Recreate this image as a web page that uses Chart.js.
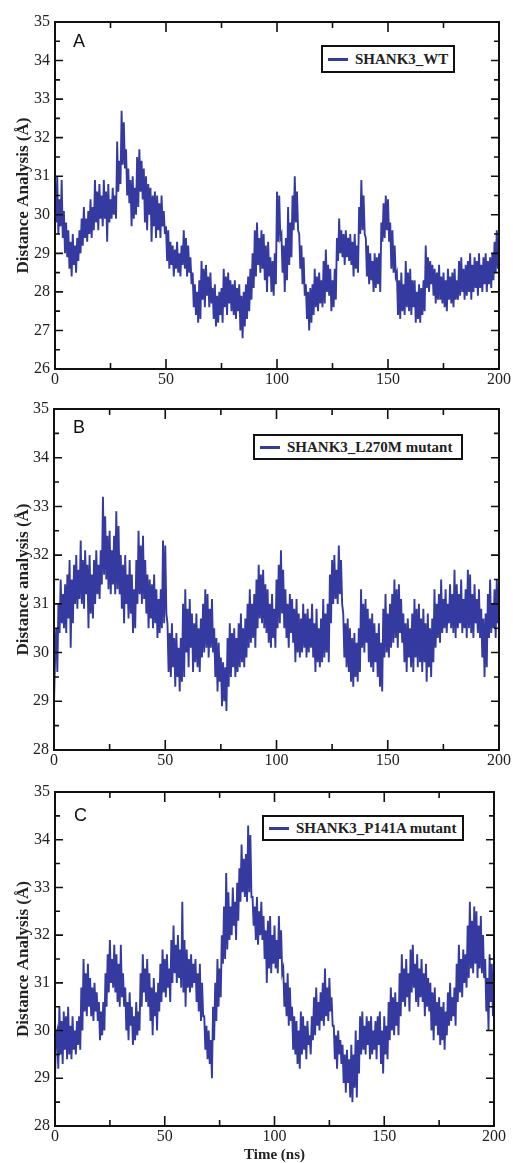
<!DOCTYPE html>
<html>
<head>
<meta charset="utf-8">
<script src="https://cdn.jsdelivr.net/npm/chart.js@4.4.1/dist/chart.umd.min.js"></script>
<style>
  body { margin: 0; background: #fff; width: 513px; height: 1163px; overflow: hidden; position: relative; }
  canvas { position: absolute; left: 0; }
  .legend { position: absolute; box-sizing: border-box; border: 2px solid #111; background: #fff;
            display: flex; align-items: center; font: bold 15px "Liberation Serif", serif; color: #222; white-space: nowrap; }
  .legend span.swatch { display: inline-block; width: 20px; height: 3px; background: rgb(52,58,160); margin: 0 7px 0 5px; }
  .letter { position: absolute; font: 18px "Liberation Sans", Arial, sans-serif; color: #111; }
</style>
</head>
<body>
<canvas id="chartA" width="513" height="390" style="top:0"></canvas>
<canvas id="chartB" width="513" height="380" style="top:390px"></canvas>
<canvas id="chartC" width="513" height="393" style="top:770px"></canvas>

<div class="letter" style="left:73px;top:31px">A</div>
<div class="letter" style="left:73px;top:417px">B</div>
<div class="letter" style="left:74px;top:805px">C</div>

<div class="legend" style="left:321px;top:45px;width:134px;height:28px"><span class="swatch"></span>SHANK3_WT</div>
<div class="legend" style="left:253px;top:434px;width:210px;height:26px"><span class="swatch"></span>SHANK3_L270M mutant</div>
<div class="legend" style="left:262px;top:815px;width:202px;height:26px"><span class="swatch"></span>SHANK3_P141A mutant</div>

<script>
// time axis: sampled every 0.5 ns, 0..200 ns
const STEP_NS = 0.5;
const timeNs = [];
for (let i = 0; i <= 400; i++) timeNs.push(i * STEP_NS);

// distance (Å), two readings per ns (one row = 10 ns)
const wtDist = [
  30.6, 29.8, 31.0, 29.5, 30.4, 29.7, 30.9, 29.4, 30.1, 29.0, 29.8, 28.9, 29.6, 28.6, 29.3, 28.4, 29.5, 28.7, 29.2, 28.5,
  29.4, 28.8, 29.6, 29.0, 29.9, 29.2, 30.2, 29.4, 29.9, 29.3, 30.1, 29.5, 30.4, 29.4, 30.2, 29.6, 30.9, 29.8, 30.6, 29.6,
  30.8, 29.9, 30.5, 29.7, 30.9, 29.9, 30.6, 29.3, 30.8, 29.8, 30.4, 29.9, 30.7, 30.0, 30.5, 29.9, 31.9, 30.6, 31.4, 30.8,
  32.7, 31.3, 32.4, 31.2, 31.7, 30.5, 31.2, 30.3, 30.9, 29.7, 31.0, 29.9, 30.7, 30.0, 31.5, 30.2, 31.7, 30.6, 31.4, 30.4,
  31.2, 29.8, 31.0, 29.6, 30.8, 30.0, 30.7, 29.3, 30.5, 29.7, 30.6, 29.4, 30.5, 29.6, 30.3, 29.4, 30.5, 29.7, 30.1, 29.5,
  29.7, 28.8, 29.6, 28.6, 29.3, 28.7, 29.2, 28.4, 29.1, 28.6, 29.3, 28.5, 29.0, 28.4, 29.2, 28.7, 29.6, 28.6, 29.4, 28.4,
  29.2, 28.5, 28.9, 28.2, 28.5, 27.6, 28.2, 27.4, 28.0, 27.2, 28.3, 27.3, 28.8, 27.8, 28.6, 27.6, 28.7, 27.9, 28.4, 27.6,
  28.5, 27.7, 28.1, 27.3, 28.2, 27.1, 27.9, 27.2, 28.0, 27.4, 28.1, 27.2, 28.6, 27.6, 28.4, 27.4, 28.5, 27.7, 28.3, 27.5,
  28.2, 27.4, 28.3, 27.3, 28.1, 27.5, 28.2, 27.0, 27.9, 26.8, 28.0, 27.1, 28.2, 27.3, 28.4, 27.5, 28.6, 27.8, 29.0, 28.1,
  29.6, 28.4, 29.8, 28.7, 29.4, 28.5, 29.6, 28.6, 29.5, 28.3, 29.2, 28.0, 29.3, 28.4, 28.9, 28.0, 28.8, 27.9, 29.0, 28.2,
  30.6, 29.3, 30.5, 29.4, 29.5, 28.5, 29.2, 28.0, 29.4, 28.3, 30.2, 28.7, 29.8, 28.9, 30.5, 29.6, 31.0, 29.8, 30.6, 29.6,
  29.5, 28.6, 29.2, 28.2, 28.9, 27.9, 28.2, 27.3, 28.0, 27.0, 28.1, 27.2, 28.2, 27.4, 28.6, 27.6, 28.4, 27.5, 28.5, 27.7,
  28.3, 27.6, 28.8, 27.7, 29.1, 28.0, 28.7, 27.9, 28.6, 27.5, 28.3, 27.6, 28.6, 27.8, 29.4, 28.8, 29.9, 29.0, 29.6, 28.9,
  29.5, 28.7, 29.6, 28.9, 29.4, 28.8, 29.5, 28.7, 29.3, 28.4, 29.5, 28.6, 29.2, 28.5, 30.2, 29.5, 30.9, 29.6, 30.5, 29.5,
  29.4, 28.4, 29.2, 28.2, 29.0, 28.3, 28.8, 28.0, 29.0, 28.1, 28.9, 28.2, 29.0, 28.0, 29.8, 29.3, 30.3, 29.4, 30.5, 29.6,
  30.4, 29.3, 29.8, 28.6, 29.6, 28.5, 29.2, 28.4, 28.5, 27.4, 28.3, 27.3, 28.5, 27.5, 28.2, 27.4, 28.8, 27.6, 28.5, 27.5,
  28.6, 27.4, 28.3, 27.6, 28.3, 27.2, 28.0, 27.3, 28.2, 27.2, 28.1, 27.4, 28.3, 27.5, 29.2, 28.1, 28.9, 28.0, 28.8, 28.2,
  28.7, 27.9, 28.6, 27.7, 28.5, 27.8, 28.7, 27.8, 28.4, 27.7, 28.5, 27.6, 28.3, 27.5, 28.6, 27.8, 28.4, 27.7, 28.5, 27.6,
  28.6, 27.8, 28.3, 27.8, 28.8, 27.9, 28.9, 28.0, 28.6, 27.8, 28.7, 27.9, 28.8, 28.0, 29.0, 27.8, 28.7, 28.0, 28.9, 28.1,
  28.8, 27.9, 29.0, 28.1, 28.7, 28.0, 28.9, 28.2, 29.0, 28.0, 28.8, 28.2, 28.9, 28.1, 29.0, 28.3, 29.3, 28.5, 29.6, 28.6,
  29.4
];

const l270mDist = [
  29.0, 29.9, 30.5, 29.6, 31.0, 30.4, 31.5, 30.6, 31.2, 30.5, 31.4, 30.4, 31.6, 30.7, 31.9, 30.1, 31.5, 30.6, 31.8, 31.0,
  32.0, 30.9, 31.7, 31.1, 32.3, 31.0, 31.9, 30.9, 32.1, 31.2, 31.8, 30.5, 32.0, 30.8, 31.6, 30.7, 31.9, 31.0, 32.1, 31.2,
  31.8, 31.1, 32.1, 31.4, 33.2, 31.6, 32.8, 31.5, 32.4, 31.3, 32.5, 31.2, 32.1, 31.4, 32.4, 31.2, 32.9, 31.3, 32.6, 31.2,
  32.0, 30.9, 31.8, 30.6, 32.0, 31.0, 31.6, 30.7, 31.9, 30.8, 31.6, 30.4, 31.3, 30.5, 31.9, 31.0, 32.5, 31.2, 32.2, 31.0,
  32.4, 31.1, 31.9, 30.8, 31.6, 30.5, 31.5, 30.7, 31.4, 30.5, 31.6, 30.6, 31.3, 30.3, 31.1, 30.4, 31.3, 30.5, 32.3, 30.6,
  32.2, 30.8, 30.6, 29.6, 30.4, 29.5, 30.6, 29.7, 30.3, 29.3, 30.4, 29.5, 30.1, 29.2, 30.3, 29.4, 31.0, 29.5, 31.3, 30.0,
  30.9, 29.7, 31.1, 30.1, 30.8, 29.6, 30.6, 29.8, 30.8, 29.7, 30.5, 29.6, 30.7, 29.9, 31.0, 30.0, 31.3, 30.1, 31.2, 29.9,
  30.9, 30.1, 31.1, 30.0, 30.5, 29.5, 30.3, 29.2, 30.2, 29.4, 29.9, 28.9, 29.8, 29.0, 29.7, 28.8, 30.3, 29.3, 30.6, 29.5,
  30.4, 29.7, 30.5, 29.5, 30.3, 29.6, 30.6, 29.7, 30.8, 29.8, 30.5, 29.7, 30.7, 29.9, 31.0, 30.1, 31.3, 30.2, 31.0, 30.3,
  31.2, 30.1, 31.5, 30.5, 31.8, 30.7, 31.6, 30.6, 31.7, 30.5, 31.4, 30.4, 31.3, 30.2, 31.0, 30.1, 31.2, 30.3, 30.9, 30.1,
  31.5, 30.5, 31.8, 30.6, 32.1, 30.8, 31.7, 30.5, 31.3, 30.3, 31.0, 30.1, 31.2, 30.4, 31.1, 30.2, 30.9, 29.8, 31.1, 30.0,
  30.8, 29.9, 30.7, 30.0, 31.0, 30.1, 30.8, 29.9, 30.9, 30.0, 30.7, 30.1, 31.0, 29.9, 30.6, 29.6, 30.9, 29.8, 30.5, 29.7,
  30.7, 29.8, 31.1, 29.9, 30.8, 30.0, 31.0, 29.8, 31.6, 30.6, 31.9, 31.0, 32.0, 31.1, 31.7, 31.0, 32.2, 31.2, 31.9, 31.0,
  30.8, 29.9, 30.6, 29.7, 30.7, 29.6, 30.5, 29.4, 30.3, 29.3, 30.4, 29.5, 30.2, 29.4, 30.5, 29.6, 31.3, 30.1, 31.0, 30.0,
  31.1, 30.2, 30.9, 29.8, 30.7, 29.7, 30.8, 29.6, 30.6, 29.8, 30.4, 29.5, 30.6, 29.3, 30.2, 29.2, 30.9, 29.9, 31.2, 30.0,
  30.8, 29.9, 31.0, 30.1, 31.2, 30.2, 31.5, 30.3, 31.3, 30.1, 31.4, 30.4, 31.1, 30.2, 30.8, 29.8, 30.6, 29.6, 30.7, 29.9,
  30.5, 29.7, 30.8, 29.6, 31.1, 29.9, 30.9, 29.7, 31.0, 29.8, 30.7, 29.6, 30.9, 29.8, 30.6, 29.4, 30.8, 29.7, 30.5, 29.5,
  30.7, 29.8, 31.3, 30.1, 31.0, 30.3, 31.2, 30.2, 31.5, 30.4, 31.1, 30.5, 31.3, 30.4, 31.0, 30.6, 31.4, 30.5, 31.2, 30.4,
  31.7, 30.3, 31.4, 30.5, 31.2, 30.6, 31.5, 30.4, 31.1, 30.5, 31.3, 30.3, 31.7, 30.5, 31.6, 30.4, 31.2, 30.3, 31.4, 30.6,
  31.1, 30.4, 31.3, 30.3, 30.9, 29.9, 30.7, 29.5, 30.8, 29.7, 31.2, 30.3, 31.5, 30.4, 31.0, 30.5, 31.3, 30.3, 31.5, 30.6,
  31.2
];

const p141aDist = [
  29.0, 29.9, 30.0, 29.2, 30.5, 29.5, 30.2, 29.3, 30.4, 29.6, 30.3, 29.4, 30.5, 29.5, 30.1, 29.4, 30.3, 29.6, 30.0, 29.5,
  30.2, 29.7, 30.3, 29.6, 30.9, 30.0, 31.5, 30.4, 31.2, 30.3, 31.4, 30.5, 31.1, 30.3, 30.9, 30.2, 31.0, 30.4, 30.8, 30.2,
  30.6, 29.8, 30.4, 29.9, 30.6, 30.0, 31.2, 30.5, 31.6, 30.8, 31.9, 31.0, 31.5, 30.9, 31.8, 30.8, 31.6, 30.6, 31.4, 30.5,
  31.8, 30.7, 31.2, 30.5, 30.9, 30.0, 30.6, 29.8, 30.8, 30.1, 30.5, 29.7, 30.3, 29.8, 30.6, 29.9, 30.4, 30.0, 31.2, 30.5,
  31.6, 30.8, 31.3, 30.6, 31.5, 30.5, 31.2, 30.2, 30.9, 29.9, 31.1, 30.3, 30.8, 30.0, 31.0, 30.4, 31.4, 30.6, 31.7, 30.8,
  31.5, 30.7, 31.6, 30.9, 31.3, 30.6, 31.9, 31.0, 32.2, 31.2, 31.8, 31.0, 32.0, 31.1, 31.7, 30.9, 32.7, 30.8, 31.9, 30.5,
  31.7, 30.9, 31.5, 30.8, 31.6, 30.9, 31.4, 31.0, 31.5, 30.6, 31.2, 30.4, 31.4, 30.2, 31.0, 30.3, 30.3, 29.6, 30.1, 29.4,
  30.0, 29.3, 29.8, 29.0, 30.5, 29.8, 31.0, 30.2, 31.5, 30.5, 31.3, 30.7, 32.0, 31.4, 32.6, 31.5, 33.3, 31.7, 32.9, 31.9,
  32.6, 32.0, 33.0, 32.2, 32.7, 31.9, 33.1, 32.3, 33.4, 32.7, 33.9, 32.9, 33.6, 32.8, 33.7, 32.7, 34.3, 32.9, 34.1, 32.8,
  32.8, 32.2, 32.6, 31.9, 32.8, 31.8, 32.5, 32.0, 32.7, 31.9, 32.4, 31.5, 32.1, 31.0, 32.3, 31.3, 32.4, 31.2, 32.0, 31.4,
  32.2, 31.3, 31.9, 31.2, 32.4, 31.5, 32.1, 31.2, 31.3, 30.5, 31.0, 30.3, 31.2, 30.1, 30.9, 30.2, 30.5, 29.6, 30.3, 29.5,
  30.2, 29.3, 30.0, 29.2, 30.4, 29.5, 30.3, 29.6, 30.1, 29.4, 30.2, 29.7, 29.9, 29.5, 30.3, 29.8, 30.7, 29.9, 30.9, 30.1,
  30.6, 30.0, 30.8, 30.2, 31.0, 30.1, 31.3, 30.3, 30.9, 30.2, 31.1, 30.4, 30.7, 30.1, 30.1, 29.4, 29.9, 29.2, 30.0, 29.5,
  29.8, 29.3, 29.7, 28.9, 29.5, 28.7, 29.6, 28.9, 29.4, 28.6, 29.7, 28.5, 29.5, 28.8, 30.0, 28.6, 29.8, 29.1, 30.3, 29.5,
  30.4, 29.6, 30.1, 29.5, 30.3, 29.7, 30.2, 29.4, 30.3, 29.5, 30.0, 29.6, 30.2, 29.4, 30.3, 29.7, 30.4, 29.3, 30.0, 29.1,
  30.3, 29.5, 30.1, 29.4, 30.6, 29.8, 30.9, 30.0, 30.7, 29.9, 30.8, 30.1, 30.6, 29.9, 31.2, 30.3, 31.6, 30.6, 31.3, 30.5,
  31.5, 30.7, 31.2, 30.4, 31.7, 30.8, 31.8, 30.9, 31.4, 30.6, 31.6, 30.5, 31.3, 30.7, 31.5, 30.6, 31.2, 30.3, 31.4, 30.5,
  31.1, 30.4, 31.0, 30.0, 30.8, 29.8, 30.9, 30.1, 30.6, 29.9, 30.7, 29.7, 30.5, 29.8, 30.6, 29.6, 30.4, 29.9, 30.8, 30.1,
  31.0, 30.2, 30.7, 30.3, 30.9, 30.1, 31.4, 30.6, 31.8, 30.8, 31.5, 30.7, 31.7, 31.0, 31.6, 30.9, 32.2, 31.1, 32.7, 31.3,
  32.3, 31.2, 32.6, 31.4, 32.5, 31.1, 32.2, 31.3, 32.4, 31.2, 32.0, 31.1, 31.5, 30.4, 31.1, 30.0, 31.6, 30.6, 31.4, 30.3,
  30.9
];

const lineColor = 'rgb(52,58,160)';
const serif = '"Liberation Serif", "Times New Roman", serif';

// box around the plot plus inward major/minor ticks on all four sides
const frameTicks = {
  id: 'frameTicks',
  afterDatasetsDraw(chart) {
    const { ctx, chartArea: a, scales: { x, y } } = chart;
    ctx.save();
    ctx.strokeStyle = '#111';
    ctx.lineWidth = 2;
    ctx.strokeRect(a.left, a.top, a.right - a.left, a.bottom - a.top);
    ctx.lineWidth = 1.6;
    ctx.beginPath();
    for (let v = x.min; v <= x.max; v += 25) {
      const px = x.getPixelForValue(v);
      const len = v % 50 === 0 ? 10 : 6;
      ctx.moveTo(px, a.bottom); ctx.lineTo(px, a.bottom - len);
      ctx.moveTo(px, a.top); ctx.lineTo(px, a.top + len);
    }
    for (let v = y.min; v <= y.max; v += 0.5) {
      const py = y.getPixelForValue(v);
      const len = Number.isInteger(v) ? 8 : 5;
      ctx.moveTo(a.left, py); ctx.lineTo(a.left + len, py);
      ctx.moveTo(a.right, py); ctx.lineTo(a.right - len, py);
    }
    ctx.stroke();
    ctx.restore();
  }
};

function makePanel(id, values, label, yMin, yTitle, box) {
  const points = values.map((v, i) => ({ x: timeNs[i], y: v }));
  return new Chart(document.getElementById(id), {
    type: 'line',
    data: { datasets: [{ label: label, data: points, borderColor: lineColor, borderWidth: 1.9,
                         pointRadius: 0, tension: 0, fill: false }] },
    options: {
      responsive: false,
      animation: false,
      layout: { padding: { top: box.top, right: box.right, left: 0, bottom: 0 } },
      plugins: { legend: { display: false }, tooltip: { enabled: false } },
      scales: {
        x: {
          type: 'linear', min: 0, max: 200,
          grid: { display: false, drawTicks: false },
          border: { display: false },
          ticks: { stepSize: 50, maxRotation: 0, padding: 1, color: '#222', font: { family: serif, size: 16 } },
          title: box.xTitle ? { display: true, text: box.xTitle, color: '#222', padding: { top: 0, bottom: 0 },
                                font: { family: serif, size: 15, weight: 'bold', lineHeight: 1 } } : { display: false },
          afterFit: s => { s.height = box.xh; }
        },
        y: {
          min: yMin, max: 35,
          grid: { display: false, drawTicks: false },
          border: { display: false },
          ticks: { stepSize: 1, padding: 5, color: '#222', font: { family: serif, size: 16 } },
          title: { display: true, text: yTitle, color: '#222', padding: { top: 13, bottom: 0 },
                   font: { family: serif, size: 17, weight: 'bold' } },
          afterFit: s => { s.width = box.left; }
        }
      }
    },
    plugins: [frameTicks]
  });
}

makePanel('chartA', wtDist, 'SHANK3_WT', 26, 'Distance Analysis (Å)',
  { top: 22, right: 14, left: 55, xh: 21 });
makePanel('chartB', l270mDist, 'SHANK3_L270M mutant', 28, 'Distance analysis (Å)',
  { top: 19, right: 14, left: 54, xh: 20 });
makePanel('chartC', p141aDist, 'SHANK3_P141A mutant', 28, 'Distance Analysis (Å)',
  { top: 22, right: 19, left: 55, xh: 37, xTitle: 'Time (ns)' });
</script>
</body>
</html>
